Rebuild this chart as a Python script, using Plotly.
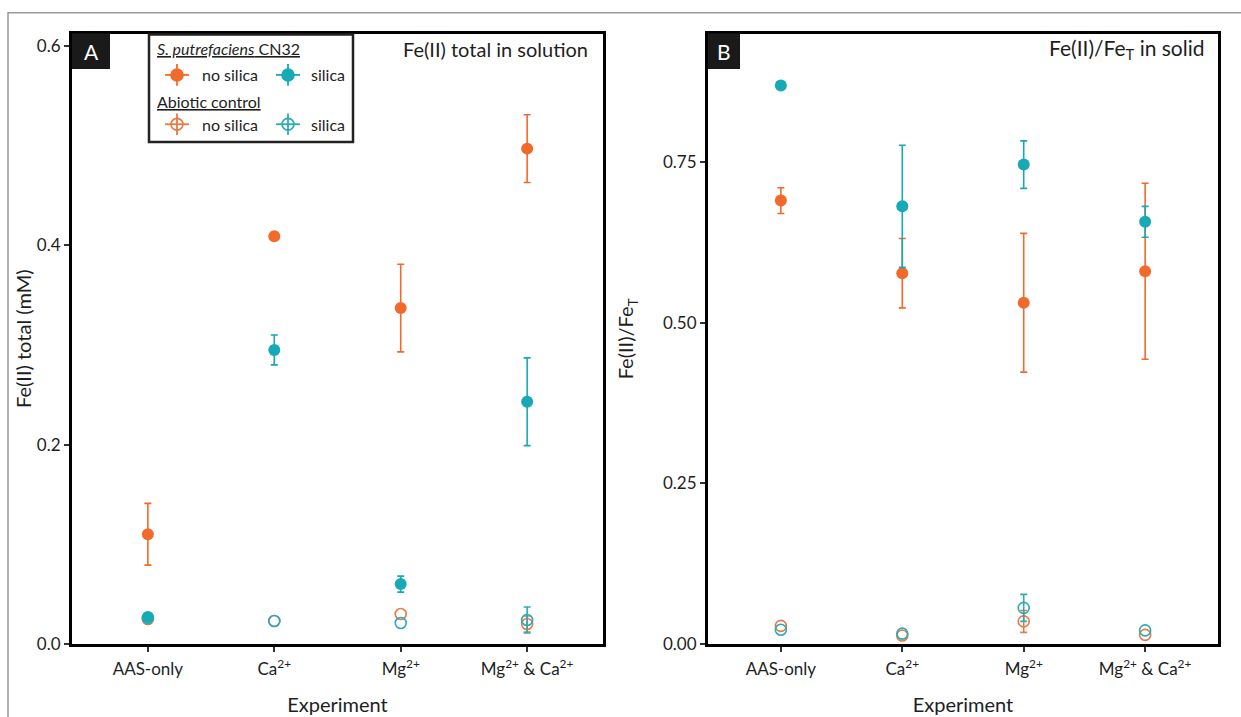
import plotly.graph_objects as go

W, H = 1241, 717

categories = ["AAS-only", "Ca<sup>2+</sup>", "Mg<sup>2+</sup>", "Mg<sup>2+</sup> & Ca<sup>2+</sup>"]

# Panel A: Fe(II) total in solution (mM); None = no visible error bar
bio_nosil_A = [0.110, 0.409, 0.337, 0.497]
bio_nosil_A_err = [0.031, 0.004, 0.044, 0.034]
bio_sil_A = [0.027, 0.295, 0.060, 0.243]
bio_sil_A_err = [None, 0.015, 0.008, 0.044]
abio_nosil_A = [0.025, 0.023, 0.030, 0.020]
abio_nosil_A_err = [None, None, None, 0.008]
abio_sil_A = [0.026, 0.023, 0.021, 0.024]
abio_sil_A_err = [None, None, None, 0.013]

# Panel B: Fe(II)/FeT in solid
bio_nosil_B = [0.690, 0.577, 0.531, 0.580]
bio_nosil_B_err = [0.020, 0.054, 0.108, 0.137]
bio_sil_B = [0.869, 0.681, 0.746, 0.657]
bio_sil_B_err = [None, 0.095, 0.037, 0.024]
abio_nosil_B = [0.028, 0.013, 0.035, 0.014]
abio_nosil_B_err = [None, None, 0.017, None]
abio_sil_B = [0.022, 0.016, 0.056, 0.021]
abio_sil_B_err = [None, None, 0.021, None]

ORANGE = "#F26A2B"
TEAL = "#17A9B6"
ORANGE_O = "#E57A45"
TEAL_O = "#2DAAB5"
FONT = "Lato"
TXT = "#1e1e1e"

def px_x(x):
    return x / W

def px_y(y):
    return 1 - y / H

fig = go.Figure()

def add_series(xa, ya, vals, errs, color, filled):
    marker = dict(size=12, color=color) if filled else dict(
        size=11, color="rgba(0,0,0,0)", line=dict(color=color, width=1.6))
    with_err = [i for i, e in enumerate(errs) if e is not None]
    no_err = [i for i, e in enumerate(errs) if e is None]
    if with_err:
        fig.add_trace(go.Scatter(
            x=[categories[i] for i in with_err], y=[vals[i] for i in with_err],
            mode="markers", xaxis=xa, yaxis=ya, marker=marker, showlegend=False,
            error_y=dict(type="data", array=[errs[i] for i in with_err], visible=True,
                         color=color, thickness=1.6, width=3.5)))
    if no_err:
        fig.add_trace(go.Scatter(
            x=[categories[i] for i in no_err], y=[vals[i] for i in no_err],
            mode="markers", xaxis=xa, yaxis=ya, marker=marker, showlegend=False))

for xa, ya, data in [
    ("x", "y", [(abio_nosil_A, abio_nosil_A_err, ORANGE_O, False),
                (abio_sil_A, abio_sil_A_err, TEAL_O, False),
                (bio_nosil_A, bio_nosil_A_err, ORANGE, True),
                (bio_sil_A, bio_sil_A_err, TEAL, True)]),
    ("x2", "y2", [(abio_nosil_B, abio_nosil_B_err, ORANGE_O, False),
                  (abio_sil_B, abio_sil_B_err, TEAL_O, False),
                  (bio_nosil_B, bio_nosil_B_err, ORANGE, True),
                  (bio_sil_B, bio_sil_B_err, TEAL, True)])]:
    for v, e, c, f in data:
        add_series(xa, ya, v, e, c, f)

TOP, BOT = 34, 653
ydom = [px_y(BOT), px_y(TOP)]
axcommon = dict(showline=True, linecolor="black", linewidth=3, mirror=True,
                ticks="outside", ticklen=5, tickwidth=1.5, tickcolor="#333",
                showgrid=False, zeroline=False,
                tickfont=dict(family=FONT, size=17, color=TXT))
titlefont = dict(family=FONT, size=20, color=TXT)

fig.update_layout(
    width=W, height=H, margin=dict(l=0, r=0, t=0, b=0),
    paper_bgcolor="white", plot_bgcolor="white",
    font=dict(family=FONT, color=TXT),
    xaxis=dict(domain=[px_x(72), px_x(603)], range=[-0.6, 3.6], type="category",
               categoryorder="array", categoryarray=categories,
               ticklabelstandoff=3,
               title=dict(text="Experiment", font=titlefont, standoff=20),
               **axcommon),
    yaxis=dict(domain=ydom, range=[0, 0.6125], tickvals=[0, 0.2, 0.4, 0.6],
               ticktext=["0.0", "0.2", "0.4", "0.6"],
               title=dict(text="Fe(II) total (mM)", font=titlefont, standoff=0),
               **axcommon),
    xaxis2=dict(domain=[px_x(708), px_x(1218)], range=[-0.6, 3.6], type="category",
                categoryorder="array", categoryarray=categories,
                anchor="y2", ticklabelstandoff=3,
                title=dict(text="Experiment", font=titlefont, standoff=20),
                **axcommon),
    yaxis2=dict(domain=ydom, range=[0, 0.95], anchor="x2",
                tickvals=[0, 0.25, 0.5, 0.75], ticktext=["0.00", "0.25", "0.50", "0.75"],
                title=dict(text="Fe(II)/Fe<sub>T</sub>", font=titlefont, standoff=24),
                **axcommon),
)

shapes = []
annotations = []

# outer border
shapes.append(dict(type="rect", xref="paper", yref="paper",
                   x0=px_x(8), x1=px_x(1260), y0=px_y(740), y1=px_y(13),
                   line=dict(color="#9a9a9a", width=1.5)))

# panel labels
for x0, x1, lab in [(72, 110, "A"), (708, 740, "B")]:
    shapes.append(dict(type="rect", xref="paper", yref="paper",
                       x0=px_x(x0), x1=px_x(x1), y0=px_y(TOP + 36), y1=px_y(TOP),
                       fillcolor="#1a1a1a", line=dict(width=0)))
    annotations.append(dict(xref="paper", yref="paper", x=px_x((x0 + x1) / 2), y=px_y(TOP + 18),
                            text=lab, showarrow=False, xanchor="center", yanchor="middle",
                            font=dict(family=FONT, size=21, color="white")))

# panel titles
annotations.append(dict(xref="paper", yref="paper", x=px_x(590), y=px_y(50),
                        text="Fe(II) total in solution", showarrow=False,
                        xanchor="right", yanchor="middle",
                        font=dict(family=FONT, size=20, color=TXT)))
annotations.append(dict(xref="paper", yref="paper", x=px_x(1207), y=px_y(50),
                        text="Fe(II)/Fe<sub>T</sub> in solid", showarrow=False,
                        xanchor="right", yanchor="middle",
                        font=dict(family=FONT, size=21, color=TXT)))

# legend box
shapes.append(dict(type="rect", xref="paper", yref="paper",
                   x0=px_x(149), x1=px_x(353), y0=px_y(144), y1=px_y(35),
                   fillcolor="white", line=dict(color="#222", width=2.5)))

def glyph(cx, cy, color, filled):
    shapes.append(dict(type="line", xref="paper", yref="paper",
                       x0=px_x(cx - 12), x1=px_x(cx + 12), y0=px_y(cy), y1=px_y(cy),
                       line=dict(color=color, width=1.8)))
    shapes.append(dict(type="line", xref="paper", yref="paper",
                       x0=px_x(cx), x1=px_x(cx), y0=px_y(cy - 11), y1=px_y(cy + 11),
                       line=dict(color=color, width=1.8)))
    shapes.append(dict(type="circle", xref="paper", yref="paper",
                       x0=px_x(cx - 6), x1=px_x(cx + 6), y0=px_y(cy + 6), y1=px_y(cy - 6),
                       fillcolor=color if filled else "rgba(0,0,0,0)",
                       line=dict(color=color, width=1.6)))

legend_rows = [
    ("<u><i>S. putrefaciens</i> CN32</u>", 49, 76, ORANGE, TEAL, True),
    ("<u>Abiotic control</u>", 103, 126, ORANGE_O, TEAL_O, False),
]
for head, hy, ry, c1, c2, filled in legend_rows:
    annotations.append(dict(xref="paper", yref="paper", x=px_x(155), y=px_y(hy),
                            text=head, showarrow=False, xanchor="left", yanchor="middle",
                            font=dict(family=FONT, size=16, color=TXT)))
    glyph(177, ry, c1, filled)
    glyph(288, ry, c2, filled)
    annotations.append(dict(xref="paper", yref="paper", x=px_x(200), y=px_y(ry),
                            text="no silica", showarrow=False, xanchor="left", yanchor="middle",
                            font=dict(family=FONT, size=16, color=TXT)))
    annotations.append(dict(xref="paper", yref="paper", x=px_x(309), y=px_y(ry),
                            text="silica", showarrow=False, xanchor="left", yanchor="middle",
                            font=dict(family=FONT, size=16, color=TXT)))

fig.update_layout(shapes=shapes, annotations=annotations)

fig.write_html(
    "out.html",
    config={"displayModeBar": False},
    post_script=("document.body.style.margin='0';document.body.style.padding='0';"
                 "document.body.style.overflow='hidden';"
                 "document.documentElement.style.overflow='hidden';"),
)
